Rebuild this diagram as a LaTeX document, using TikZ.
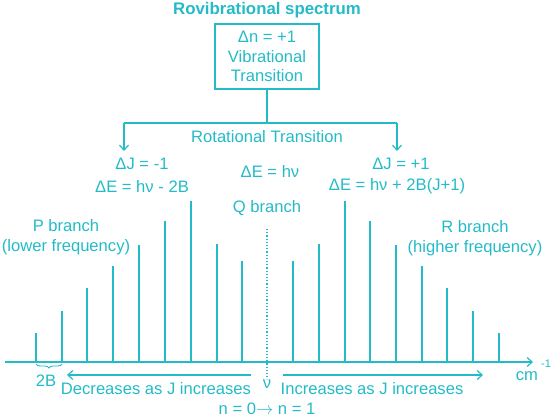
\documentclass[tikz,border=0pt]{standalone}
\usepackage{fontspec}
\setmainfont{Liberation Sans}
\usetikzlibrary{arrows.meta,decorations.pathreplacing}
\definecolor{tb}{RGB}{35,187,199}
\tikzset{%
  txt/.style     = {text=tb, inner sep=0pt, align=center,%
                    font=\fontsize{16.6}{19.5}\selectfont},%
  boldtxt/.style = {txt, font=\fontsize{16.8}{19.5}\selectfont\bfseries},%
  vibbox/.style  = {txt, draw=tb, line width=1.2pt,%
                    minimum width=104pt, minimum height=65pt},%
  link/.style    = {draw=tb, line width=1.2pt},%
  peak/.style    = {draw=tb, line width=1.2pt}%
}

\begin{document}
\begin{tikzpicture}[x=1pt,y=-1pt,>={Straight Barb[length=5pt,width=9pt]}]
	\useasboundingbox (0,0) rectangle (552,418);
	% box and split
	\node [boldtxt] (title) at (267,10) {Rovibrational spectrum};
	\node [vibbox] (vib) at (267,56.5) {Δn = +1\\Vibrational\\Transition};
	\coordinate (split) at (267,123);
	\coordinate (lft) at (124,123);
	\coordinate (rgt) at (397,123);
	\coordinate (lftend) at (124,151);
	\coordinate (rgtend) at (397,151);
	\draw [link] (vib.south) -- (split);
	\draw [link] (lft) -- (rgt);
	\draw [link,->] (lft) -- (lftend);
	\draw [link,->] (rgt) -- (rgtend);
	\node [txt] (rot) at (267,137) {Rotational Transition};
	% branch labels
	\node [txt] (dJm) at (142,164) {ΔJ = -1};
	\node [txt] (dEm) at (142,186) {ΔE = hν - 2B};
	\node [txt] (dE0) at (270,171) {ΔE = hν};
	\node [txt] (qbr) at (267,208) {Q branch};
	\node [txt] (dJp) at (401,164) {ΔJ = +1};
	\node [txt] (dEp) at (397,186) {ΔE = hν + 2B(J+1)};
	\node [txt] (pbr) at (66,237) {P branch\\(lower frequency)};
	\node [txt] (rbr) at (475,238) {R branch\\(higher frequency)};
	% spectrum
	\coordinate (axL) at (5,362);
	\coordinate (axR) at (533,362);
	\draw [link,->] (axL) -- (axR);
	\foreach \x/\h in {36/29,62/51,87/74,113/96,139/117,165/141,191/161,217/118,242/101,
	                   293/101,319/118,345/161,370/141,396/117,422/96,447/74,473/51,499/29}
		\draw [peak] (\x,362) -- (\x,362-\h);
	\coordinate (qtop) at (267,229);
	\node [txt] (nu) at (267,384) {ν};
	\draw [link,dotted] (qtop) -- (nu.north);
	\node [txt] (cm) at (527,376) {cm};
	\node [txt,font=\fontsize{11}{13}\selectfont] (inv) at (546,364) {-1};
	% lower annotations
	\coordinate (bl) at (36,364);
	\coordinate (br) at (62,364);
	\draw [link,line width=0.9pt,decorate,decoration={brace,mirror,amplitude=4pt}] (bl) -- (br);
	\node [txt] (twoB) at (46,381) {2B};
	\coordinate (decS) at (251,375);
	\coordinate (decE) at (67,375);
	\coordinate (incS) at (283,375);
	\coordinate (incE) at (483,375);
	\draw [link,->] (decS) -- (decE);
	\draw [link,->] (incS) -- (incE);
	\node [txt] (dec) at (156,389) {Decreases as J increases};
	\node [txt] (inc) at (372,389) {Increases as J increases};
	\node [txt] (nn) at (267,409) {n = 0$\rightarrow$ n = 1};
\end{tikzpicture}
\end{document}
